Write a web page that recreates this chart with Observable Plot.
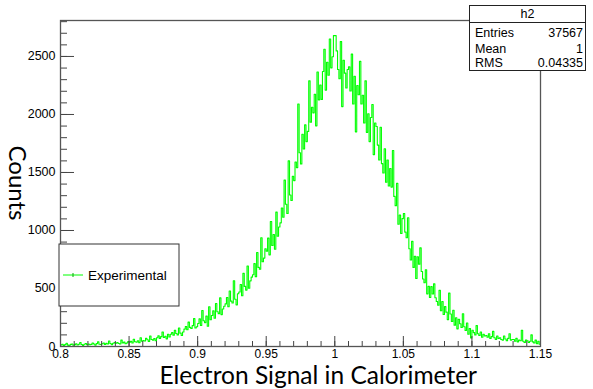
<!DOCTYPE html>
<html><head><meta charset="utf-8">
<script src="https://cdn.jsdelivr.net/npm/d3@7"></script>
<script src="https://cdn.jsdelivr.net/npm/@observablehq/plot@0.6"></script>
<style>
body{margin:0;background:#fff;}
#wrap{position:relative;width:593px;height:389px;overflow:hidden;}
</style></head><body><div id="wrap"></div>
<script>
// Histogram h2: bins of width 0.001 starting at 0.8
const binStart = 0.8;
const binWidth = 0.001;
const counts = [
 14, 20, 9, 16, 28, 12, 6, 18, 22, 11,
 16, 24, 13, 19, 35, 17, 10, 20, 26, 15,
 22, 15, 18, 30, 21, 12, 25, 40, 19, 17,
 24, 30, 18, 27, 22, 48, 26, 15, 28, 33,
 28, 35, 26, 22, 55, 31, 38, 24, 30, 42,
 36, 44, 30, 62, 41, 38, 50, 33, 75, 45,
 52, 48, 70, 58, 44, 90, 60, 55, 68, 50,
 75, 92, 70, 85, 125, 78, 88, 66, 105, 82,
 105, 120, 98, 140, 112, 100, 160, 115, 95, 125,
 150, 172, 145, 210, 165, 155, 180, 240, 160, 170,
 198, 238, 182, 310, 222, 206, 262, 174, 342, 230,
 267, 307, 243, 371, 299, 283, 419, 275, 323, 347,
 367, 423, 343, 479, 391, 375, 567, 407, 359, 455,
 470, 534, 438, 630, 518, 486, 694, 502, 566, 598,
 618, 714, 602, 810, 682, 666, 938, 730, 762, 842,
 822, 934, 790, 1078, 870, 966, 838, 1158, 950, 1030,
 1066, 1194, 1114, 1434, 1226, 1146, 1600, 1306, 1258, 1466,
 1430, 1590, 1542, 2090, 1670, 1574, 1830, 1702, 1910, 1766,
 1854, 2290, 1934, 2062, 2014, 2174, 1902, 2366, 2126, 2254,
 2130, 2370, 2562, 2210, 2450, 2338, 2650, 2402, 2498, 2680,
 2680, 2548, 2388, 2308, 2628, 2068, 2468, 2356, 2228, 2388,
 2410, 2202, 2520, 2090, 2330, 1850, 2250, 2170, 2458, 2090,
 2166, 1926, 2290, 1846, 2006, 1766, 1974, 2086, 1654, 1926,
 1896, 1736, 1608, 1890, 1576, 1496, 1704, 1416, 1608, 1384,
 1534, 1374, 1690, 1294, 1214, 1406, 1054, 1134, 974, 1102,
 1146, 986, 938, 1110, 842, 746, 906, 682, 778, 586,
 774, 710, 850, 646, 582, 550, 662, 454, 518, 422,
 516, 452, 540, 420, 388, 356, 484, 308, 388, 276,
 344, 296, 232, 460, 280, 216, 312, 184, 248, 152,
 234, 196, 164, 282, 170, 138, 202, 106, 154, 74,
 140, 120, 100, 180, 110, 95, 125, 80, 105, 90,
 95, 80, 110, 70, 85, 130, 75, 60, 90, 70,
 75, 60, 55, 90, 65, 50, 70, 110, 55, 60,
 60, 45, 70, 40, 55, 50, 140, 45, 35, 55,
 50, 35, 45, 100, 40, 30, 55, 25, 45, 20
];
const xMajorTicks = [0.8, 0.85, 0.9, 0.95, 1, 1.05, 1.1, 1.15];
const xTickLabels = ["0.8", "0.85", "0.9", "0.95", "1", "1.05", "1.1", "1.15"];
const yMajorTicks = [0, 500, 1000, 1500, 2000, 2500];
const yTickLabels = ["0", "500", "1000", "1500", "2000", "2500"];
const statsTitle = "h2";
const statsNames = ["Entries", "Mean", "RMS"];
const statsValues = ["37567", "1", "0.04335"];
const legendLabel = "Experimental";
const xTitle = "Electron Signal in Calorimeter";
const yTitle = "Counts";

const hist = counts.map((c, i) => ({x: binStart + i * binWidth, y: c}));
hist.push({x: binStart + counts.length * binWidth, y: counts[counts.length - 1]});

const W = 593, H = 389, mL = 60, mR = 53, mT = 20, mB = 43;
const plotW = W - mL - mR, plotH = H - mT - mB;
const xMinor = d3.range(80, 116).map(v => v / 100);
const yMinor = d3.range(0, 2801, 100);
const axisCol = "#444";

const chart = Plot.plot({
  width: W, height: H,
  marginLeft: mL, marginRight: mR, marginTop: mT, marginBottom: mB,
  x: {domain: [0.8, 1.15]},
  y: {domain: [0, 2810]},
  style: {fontFamily: "'Liberation Sans', Arial, sans-serif", background: "white", color: "#000", overflow: "visible"},
  marks: [
    Plot.line(hist, {x: "x", y: "y", curve: "step-after", stroke: "#00ff00", strokeWidth: 1.1}),
    Plot.tickX(xMinor, {x: d => d, insetTop: plotH - 5, stroke: axisCol}),
    Plot.tickX(xMajorTicks, {x: d => d, insetTop: plotH - 10, stroke: axisCol}),
    Plot.tickY(yMinor, {y: d => d, insetRight: plotW - 7, stroke: axisCol}),
    Plot.tickY(yMajorTicks, {y: d => d, insetRight: plotW - 14, stroke: axisCol}),
    Plot.axisX(xMajorTicks, {tickSize: 0, tickPadding: 3, label: null, fontSize: 12,
      tickFormat: d => xTickLabels[xMajorTicks.indexOf(d)]}),
    Plot.axisY(yMajorTicks, {tickSize: 0, tickPadding: 5, label: null, fontSize: 12.5,
      tickFormat: d => yTickLabels[yMajorTicks.indexOf(d)]}),
    Plot.frame({stroke: "#555", strokeWidth: 1.3})
  ]
});
document.getElementById("wrap").appendChild(chart);

const svg = d3.select(chart);
const sans = "'Liberation Sans', Arial, sans-serif";
const titleFont = "Lato, 'Open Sans', sans-serif";

// legend
const lg = svg.append("g").attr("text-anchor", "start");
lg.append("rect").attr("x", 59).attr("y", 244).attr("width", 120).attr("height", 62)
  .attr("fill", "white").attr("stroke", "#333").attr("stroke-width", 1);
lg.append("line").attr("x1", 63).attr("x2", 83).attr("y1", 275).attr("y2", 275)
  .attr("stroke", "#00ff00").attr("stroke-width", 1);
lg.append("line").attr("x1", 73).attr("x2", 73).attr("y1", 273).attr("y2", 277)
  .attr("stroke", "#00aa00").attr("stroke-width", 1);
lg.append("text").attr("x", 88).attr("y", 280).attr("text-anchor", "start")
  .attr("font-family", sans).attr("font-size", 13.5).text(legendLabel);

// stats box
const sb = svg.append("g");
sb.append("rect").attr("x", 469.5).attr("y", 5.5).attr("width", 116).attr("height", 65)
  .attr("fill", "white").attr("stroke", "#222").attr("stroke-width", 1);
sb.append("line").attr("x1", 469.5).attr("x2", 585.5).attr("y1", 22.5).attr("y2", 22.5)
  .attr("stroke", "#222").attr("stroke-width", 1);
sb.append("text").attr("x", 527.5).attr("y", 18).attr("text-anchor", "middle")
  .attr("font-family", sans).attr("font-size", 12.5).text(statsTitle);
const rowY = [36.5, 52.5, 67];
statsNames.forEach((n, i) => {
  sb.append("text").attr("x", 475).attr("y", rowY[i]).attr("text-anchor", "start")
    .attr("font-family", sans).attr("font-size", 12.5).text(n);
  sb.append("text").attr("x", 583).attr("y", rowY[i]).attr("text-anchor", "end")
    .attr("font-family", sans).attr("font-size", 12.5).text(statsValues[i]);
});

// axis titles
svg.append("text").attr("x", 477).attr("y", 384).attr("text-anchor", "end")
  .attr("font-family", titleFont).attr("font-size", 24.5).text(xTitle);
svg.append("text").attr("transform", "translate(9,183) rotate(90)").attr("text-anchor", "middle")
  .attr("font-family", titleFont).attr("font-size", 24).text(yTitle);
</script>
</body></html>
